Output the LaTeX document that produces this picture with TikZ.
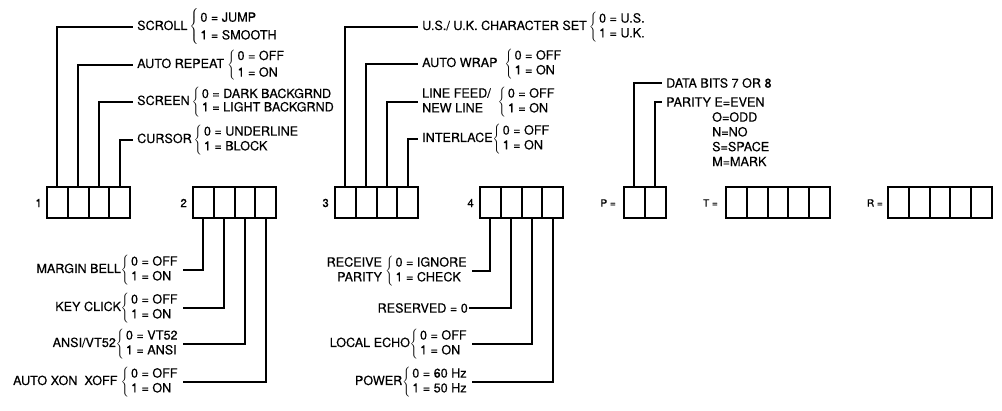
\documentclass[tikz,border=0pt]{standalone}
\usepackage{fontspec}
\setmainfont{TeX Gyre Heros}[FakeBold=0.4]
\usetikzlibrary{positioning}
\newcommand\opts[3][1.0]{$\left\{\,\renewcommand\arraystretch{#1}\begin{tabular}{@{}l@{}}#2\\#3\end{tabular}\right.$}
\tikzset{
  cell/.style={draw, line width=2pt, minimum width=20.75pt, minimum height=31pt, inner sep=0pt, outer sep=0pt},
  lab/.style={font=\fontsize{12.6}{14.8}\selectfont, inner xsep=4pt, inner ysep=0pt},
  num/.style={font=\fontsize{10}{12}\selectfont, inner sep=0pt},
  wire/.style={line width=2pt},
}
\begin{document}
\begin{tikzpicture}[x=1pt,y=-1pt]
		\useasboundingbox (0,0) rectangle (1002,411);
		
		%%%%% switch groups %%%%%
		\node[cell] (a1) at (57.4,203) {};
		\node[cell, right=0pt of a1] (a2) {};
		\node[cell, right=0pt of a2] (a3) {};
		\node[cell, right=0pt of a3] (a4) {};
		\node[num, font=\fontsize{11.5}{13}\selectfont, left=5pt of a1] (n1) {1};
		
		\node[cell] (b1) at (203.4,203) {};
		\node[cell, right=0pt of b1] (b2) {};
		\node[cell, right=0pt of b2] (b3) {};
		\node[cell, right=0pt of b3] (b4) {};
		\node[num, font=\fontsize{11.5}{13}\selectfont, left=6pt of b1] (n2) {2};
		
		\node[cell] (c1) at (345.4,203) {};
		\node[cell, right=0pt of c1] (c2) {};
		\node[cell, right=0pt of c2] (c3) {};
		\node[cell, right=0pt of c3] (c4) {};
		\node[num, font=\fontsize{11.5}{13}\selectfont, left=6pt of c1] (n3) {3};
		
		\node[cell] (d1) at (490.4,203) {};
		\node[cell, right=0pt of d1] (d2) {};
		\node[cell, right=0pt of d2] (d3) {};
		\node[cell, right=0pt of d3] (d4) {};
		\node[num, font=\fontsize{11.5}{13}\selectfont, left=6pt of d1] (n4) {4};
		
		\node[cell] (p1) at (634.4,203) {};
		\node[cell, right=0pt of p1] (p2) {};
		\node[num, left=8pt of p1] (np) {P =};
		
		\node[cell] (t1) at (736.4,203) {};
		\node[cell, right=0pt of t1] (t2) {};
		\node[cell, right=0pt of t2] (t3) {};
		\node[cell, right=0pt of t3] (t4) {};
		\node[cell, right=0pt of t4] (t5) {};
		\node[num, left=8pt of t1] (nt) {T =};
		
		\node[cell] (r1) at (898.4,203) {};
		\node[cell, right=0pt of r1] (r2) {};
		\node[cell, right=0pt of r2] (r3) {};
		\node[cell, right=0pt of r3] (r4) {};
		\node[cell, right=0pt of r4] (r5) {};
		\node[num, left=5pt of r1] (nr) {R =};
		
		%%%%% group 1 labels %%%%%
		\node[lab, anchor=west] (scroll) at (133,27) {SCROLL\,\opts[1.2]{0 = JUMP}{1 = SMOOTH}};
		\node[lab, anchor=west] (repeat) at (133,65) {AUTO REPEAT\ \opts[1.12]{0 = OFF}{1 = ON}};
		\node[lab, anchor=west] (screen) at (133,102) {SCREEN\,\opts[0.9]{0 = DARK BACKGRND}{1 = LIGHT BACKGRND}};
		\node[lab, anchor=west] (cursor) at (133,140) {CURSOR\,\opts{0 = UNDERLINE}{1 = BLOCK}};
		
		\draw[wire] (a1.north) |- (scroll.west);
		\draw[wire] (a2.north) |- (repeat.west);
		\draw[wire] (a3.north) |- (screen.west);
		\draw[wire] (a4.north) |- (cursor.west);
		
		%%%%% group 2 labels %%%%%
		\node[lab, anchor=east] (bell) at (183,270) {MARGIN BELL\opts{0 = OFF}{1 = ON}};
		\node[lab, anchor=east] (click) at (183,308) {KEY CLICK\opts{0 = OFF}{1 = ON}};
		\node[lab, anchor=east] (ansi) at (183,344) {ANSI/VT52\opts{0 = VT52}{1 = ANSI}};
		\node[lab, anchor=east] (xon) at (183,382) {AUTO XON\ \ XOFF\ \opts{0 = OFF}{1 = ON}};
		
		\draw[wire] (b1.south) |- (bell.east);
		\draw[wire] (b2.south) |- (click.east);
		\draw[wire] (b3.south) |- (ansi.east);
		\draw[wire] (b4.south) |- (xon.east);
		
		%%%%% group 3 labels %%%%%
		\node[lab, anchor=west] (charset) at (418,27) {U.S./ U.K. CHARACTER SET\,\opts{0 = U.S.}{1 = U.K.}};
		\node[lab, anchor=west] (wrap) at (418,64) {AUTO WRAP\ \ \opts{0 = OFF}{1 = ON}};
		\node[lab, anchor=west] (linefeed) at (418,102) {\begin{tabular}{@{}l@{}}LINE FEED/\\NEW LINE\end{tabular}\ \ \opts{0 = OFF}{1 = ON}};
		\node[lab, anchor=west] (interlace) at (418,139) {INTERLACE\opts{0 = OFF}{1 = ON}};
		
		\draw[wire] (c1.north) |- (charset.west);
		\draw[wire] (c2.north) |- (wrap.west);
		\draw[wire] (c3.north) |- (linefeed.west);
		\draw[wire] (c4.north) |- (interlace.west);
		
		%%%%% group 4 labels %%%%%
		\node[lab, anchor=east] (rxparity) at (472,271) {\begin{tabular}{@{}r@{}}RECEIVE\\PARITY\end{tabular}\ \opts{0 = IGNORE}{1 = CHECK}};
		\node[lab, anchor=east, inner xsep=1pt] (reserved) at (469,308) {RESERVED = 0};
		\node[lab, anchor=east] (echo) at (472,344) {LOCAL ECHO\opts{0 = OFF}{1 = ON}};
		\node[lab, anchor=east] (power) at (472,382) {POWER\opts{0 = 60 Hz}{1 = 50 Hz}};
		
		\draw[wire] (d1.south) |- (rxparity.east);
		\draw[wire] (d2.south) |- (reserved.east);
		\draw[wire] (d3.south) |- (echo.east);
		\draw[wire] (d4.south) |- (power.east);
		
		%%%%% P labels %%%%%
		\node[lab, anchor=west] (databits) at (662,83) {DATA BITS 7 OR 8};
		\node[lab, anchor=west] (parity) at (662,102) {PARITY E=EVEN};
		\node[lab, anchor=north west, align=left] (paritylist) at (708,112) {O=ODD\\N=NO\\S=SPACE\\M=MARK};
		
		\draw[wire] (p1.north) |- (databits.west);
		\draw[wire] (p2.north) |- (parity.west);
		
	\end{tikzpicture}
\end{document}
